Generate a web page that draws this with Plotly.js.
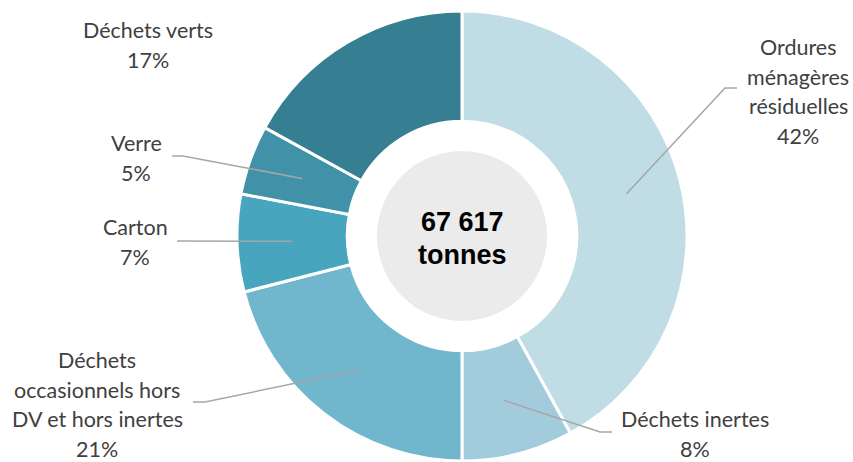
<!DOCTYPE html>
<html>
<head>
<meta charset="utf-8">
<script src="https://cdn.plot.ly/plotly-3.0.1.min.js"></script>
<style>html,body{margin:0;padding:0;background:#fff;}#chart{width:853px;height:462px;}</style>
</head>
<body>
<div id="chart"></div>
<script>
// ---- data ----
const categories = ['Ordures ménagères résiduelles', 'Déchets inertes', 'Déchets occasionnels hors DV et hors inertes', 'Carton', 'Verre', 'Déchets verts'];
const values = [42, 8, 21, 7, 5, 17];
const labelLines = [
  ['Ordures', 'ménagères', 'résiduelles'],
  ['Déchets inertes'],
  ['Déchets', 'occasionnels hors', 'DV et hors inertes'],
  ['Carton'],
  ['Verre'],
  ['Déchets verts']
];
const totalLines = ['67 617', 'tonnes'];
const colors = ['#c0dce4', '#a2cbdb', '#70b6cd', '#47a5be', '#4192a8', '#367f92'];

// ---- layout config (pixels) ----
const W = 853, H = 462;
const cx = 462, cy = 236, R = 225, holeFrac = 0.51;
const grayR = 85;
const lineGap = 29.5;
// label text centre x, first line y, and leader path points (elbow, end) or null
const labelPos = [
  {x: 798, y: 47, pts: [[725, 88], [737, 88]]},
  {x: 695, y: 419, pts: [[600, 432], [612, 432]]},
  {x: 97, y: 360, pts: [[205, 402], [193, 402]]},
  {x: 135, y: 227, pts: [[177, 241]]},
  {x: 136, y: 143, pts: [[183, 156], [172, 156]]},
  {x: 148, y: 30, pts: null}
];

const px = x => x / W;
const py = y => 1 - y / H;

const total = values.reduce((a, b) => a + b, 0);
const pct = values.map(v => Math.round(v / total * 100) + '%');

const annotations = [];
const shapes = [];

// gray centre disc
shapes.push({type: 'circle', xref: 'paper', yref: 'paper', layer: 'below',
  x0: px(cx - grayR), x1: px(cx + grayR), y0: py(cy + grayR), y1: py(cy - grayR),
  fillcolor: '#ebebeb', line: {width: 0}});

let cum = 0;
const rMid = R * (1 + holeFrac) / 2;
values.forEach((v, i) => {
  const theta = 2 * Math.PI * (cum + v / 2) / total;
  cum += v;
  const sx = cx + rMid * Math.sin(theta);
  const sy = cy - rMid * Math.cos(theta);
  const lp = labelPos[i];
  const lines = labelLines[i].concat([pct[i]]);
  lines.forEach((t, k) => {
    annotations.push({xref: 'paper', yref: 'paper', x: px(lp.x), y: py(lp.y + k * lineGap),
      xanchor: 'center', yanchor: 'middle', showarrow: false, text: t,
      font: {family: 'Lato, "Open Sans", sans-serif', size: 21.5, color: '#404040'}});
  });
  if (lp.pts) {
    let d = 'M ' + px(sx) + ',' + py(sy);
    lp.pts.forEach(p => { d += ' L ' + px(p[0]) + ',' + py(p[1]); });
    shapes.push({type: 'path', xref: 'paper', yref: 'paper', layer: 'above', path: d,
      line: {color: '#a6a6a6', width: 1.5}});
  }
});

[222, 255].forEach((y, k) => {
  annotations.push({xref: 'paper', yref: 'paper', x: px(cx), y: py(y),
    xanchor: 'center', yanchor: 'middle', showarrow: false, text: '<b>' + totalLines[k] + '</b>',
    font: {family: '"Liberation Sans", Arial, sans-serif', size: 27, color: '#000000'}});
});

const trace = {
  type: 'pie',
  labels: categories,
  values: values,
  sort: false,
  direction: 'clockwise',
  rotation: 0,
  hole: holeFrac,
  textinfo: 'none',
  hoverinfo: 'skip',
  marker: {colors: colors, line: {color: '#ffffff', width: 3}},
  domain: {x: [px(cx - R), px(cx + R)], y: [py(cy + R), py(cy - R)]},
  showlegend: false
};

Plotly.newPlot('chart', [trace], {
  width: W, height: H,
  margin: {l: 0, r: 0, t: 0, b: 0},
  paper_bgcolor: '#ffffff',
  showlegend: false,
  shapes: shapes,
  annotations: annotations
}, {displayModeBar: false, staticPlot: true});
</script>
</body>
</html>
